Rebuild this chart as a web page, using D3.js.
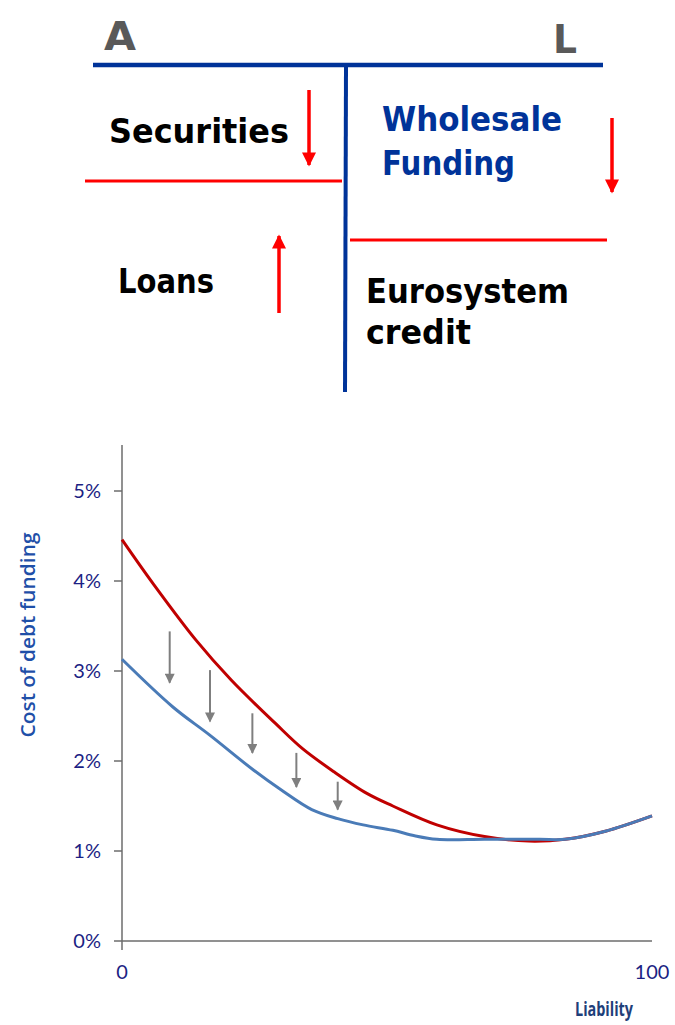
<!DOCTYPE html>
<html lang="en">
<head>
<meta charset="UTF-8">
<title>Balance sheet and cost of debt funding</title>
<script src="https://d3js.org/d3.v7.min.js"></script>
<style>
  body { margin: 0; background: #fff; }
  .hand { font-family: "Comic Sans MS", "DejaVu Sans", sans-serif; font-weight: bold; }
  .tick-lab { font-family: "Gill Sans", "Lato", "Open Sans", sans-serif; fill: #1c1f84; font-size: 20px; }
</style>
</head>
<body>
<script>
// ---- data ----
const xTicks = [0, 100];
const yTicks = [0, 1, 2, 3, 4, 5];
// red curve: cost before (liability share, % cost)
const redX = [0, 6, 14, 20.6, 28.9, 34, 40, 46.2, 51.1, 59.4, 68.4, 76.7, 83.6, 91.2, 100];
const redY = [4.46, 3.96, 3.34, 2.9, 2.42, 2.14, 1.88, 1.64, 1.5, 1.29, 1.16, 1.11, 1.13, 1.22, 1.39];
// blue curve: cost after
const blueX = [0, 9.6, 16.5, 24.8, 30, 35.8, 40.7, 45.5, 51.1, 55.2, 59.4, 68.4, 78.8, 83.6, 91.2, 100];
const blueY = [3.13, 2.6, 2.29, 1.9, 1.68, 1.46, 1.36, 1.29, 1.23, 1.17, 1.13, 1.13, 1.13, 1.13, 1.22, 1.39];
// grey shift arrows
const arrowX = [9, 16.6, 24.6, 32.9, 40.7];
const arrowFrom = [3.44, 3.01, 2.53, 2.09, 1.77];
const arrowTo = [2.87, 2.44, 2.09, 1.71, 1.46];

const W = 675, H = 1025;
const svg = d3.select("body").append("svg").attr("width", W).attr("height", H);

const defs = svg.append("defs");
function marker(id, color, w, h) {
  defs.append("marker").attr("id", id).attr("viewBox", "0 0 10 10")
    .attr("refX", 9).attr("refY", 5).attr("markerUnits", "userSpaceOnUse")
    .attr("markerWidth", w).attr("markerHeight", h).attr("orient", "auto")
    .append("path").attr("d", "M0,0 L10,5 L0,10 Z").attr("fill", color);
}
marker("redHead", "#ff0000", 16, 14);
marker("greyHead", "#7f7f7f", 12, 10);

// ---- T-account ----
const T = svg.append("g");
const navy = "#003399";
T.append("line").attr("x1", 93).attr("x2", 603).attr("y1", 65).attr("y2", 65)
  .attr("stroke", navy).attr("stroke-width", 4.5);
T.append("line").attr("x1", 346).attr("x2", 345).attr("y1", 67).attr("y2", 392)
  .attr("stroke", navy).attr("stroke-width", 4);
T.append("line").attr("x1", 85).attr("x2", 342).attr("y1", 181).attr("y2", 181)
  .attr("stroke", "#ff0000").attr("stroke-width", 3);
T.append("line").attr("x1", 350).attr("x2", 607).attr("y1", 240).attr("y2", 240)
  .attr("stroke", "#ff0000").attr("stroke-width", 3);

const tLabels = [
  { t: "A", x: 104, y: 50, w: 32, c: "#595959", s: 39 },
  { t: "L", x: 553, y: 53, w: 24, c: "#595959", s: 39 },
  { t: "Securities", x: 109, y: 143, w: 180, c: "#000", s: 33 },
  { t: "Wholesale", x: 382, y: 131, w: 180, c: navy, s: 33 },
  { t: "Funding", x: 382, y: 175, w: 133, c: navy, s: 33 },
  { t: "Loans", x: 118, y: 293, w: 96, c: "#000", s: 33 },
  { t: "Eurosystem", x: 366, y: 303, w: 203, c: "#000", s: 33 },
  { t: "credit", x: 366, y: 344, w: 105, c: "#000", s: 33 }
];
T.selectAll("text.lab").data(tLabels).join("text").attr("class", "hand lab")
  .attr("x", d => d.x).attr("y", d => d.y).attr("fill", d => d.c)
  .attr("font-size", d => d.s).attr("textLength", d => d.w)
  .attr("lengthAdjust", "spacingAndGlyphs").text(d => d.t);

const redArrows = [[309, 90, 165], [612, 118, 192], [279, 313, 236]];
T.selectAll("line.ra").data(redArrows).join("line").attr("class", "ra")
  .attr("x1", d => d[0]).attr("x2", d => d[0]).attr("y1", d => d[1]).attr("y2", d => d[2])
  .attr("stroke", "#ff0000").attr("stroke-width", 3.5).attr("marker-end", "url(#redHead)");

// ---- chart ----
const x = d3.scaleLinear().domain([0, 100]).range([122, 652]);
const y = d3.scaleLinear().domain([0, 5]).range([941, 491]);
const C = svg.append("g");

C.append("line").attr("x1", x(0)).attr("x2", x(0)).attr("y1", 445).attr("y2", 950)
  .attr("stroke", "#6d6d6d").attr("stroke-width", 1.5);
C.append("line").attr("x1", 114).attr("x2", x(100)).attr("y1", y(0)).attr("y2", y(0))
  .attr("stroke", "#6d6d6d").attr("stroke-width", 1.5);

C.selectAll("line.yt").data(yTicks.slice(1)).join("line").attr("class", "yt")
  .attr("x1", x(0) - 8).attr("x2", x(0)).attr("y1", d => y(d)).attr("y2", d => y(d))
  .attr("stroke", "#6d6d6d").attr("stroke-width", 1.5);
C.selectAll("text.yl").data(yTicks).join("text").attr("class", "tick-lab yl")
  .attr("x", 101).attr("y", d => y(d) + 7).attr("text-anchor", "end").text(d => d + "%");
C.selectAll("text.xl").data(xTicks).join("text").attr("class", "tick-lab xl")
  .attr("x", d => x(d)).attr("y", 979).attr("text-anchor", "middle").text(d => d);

C.append("text").attr("transform", "translate(35,635) rotate(-90)")
  .attr("text-anchor", "middle").attr("fill", "#1f4fa8")
  .attr("textLength", 205).attr("lengthAdjust", "spacingAndGlyphs")
  .style("font-family", "'Open Sans', sans-serif").style("font-weight", "600").style("font-size", "19px")
  .text("Cost of debt funding");
C.append("text").attr("x", 604).attr("y", 1016).attr("text-anchor", "middle")
  .attr("fill", "#1f3f7a").attr("textLength", 58).attr("lengthAdjust", "spacingAndGlyphs")
  .style("font-family", "'Open Sans', sans-serif")
  .style("font-weight", "bold").style("font-size", "20px").text("Liability");

const line = d3.line().x(d => x(d[0])).y(d => y(d[1])).curve(d3.curveCatmullRom);
C.append("path").datum(redX.map((v, i) => [v, redY[i]])).attr("d", line)
  .attr("fill", "none").attr("stroke", "#c00000").attr("stroke-width", 3);
C.append("path").datum(blueX.map((v, i) => [v, blueY[i]])).attr("d", line)
  .attr("fill", "none").attr("stroke", "#4a7bb7").attr("stroke-width", 3);

C.selectAll("line.ga").data(arrowX).join("line").attr("class", "ga")
  .attr("x1", d => x(d)).attr("x2", d => x(d))
  .attr("y1", (d, i) => y(arrowFrom[i])).attr("y2", (d, i) => y(arrowTo[i]))
  .attr("stroke", "#7f7f7f").attr("stroke-width", 2).attr("marker-end", "url(#greyHead)");
</script>
</body>
</html>
